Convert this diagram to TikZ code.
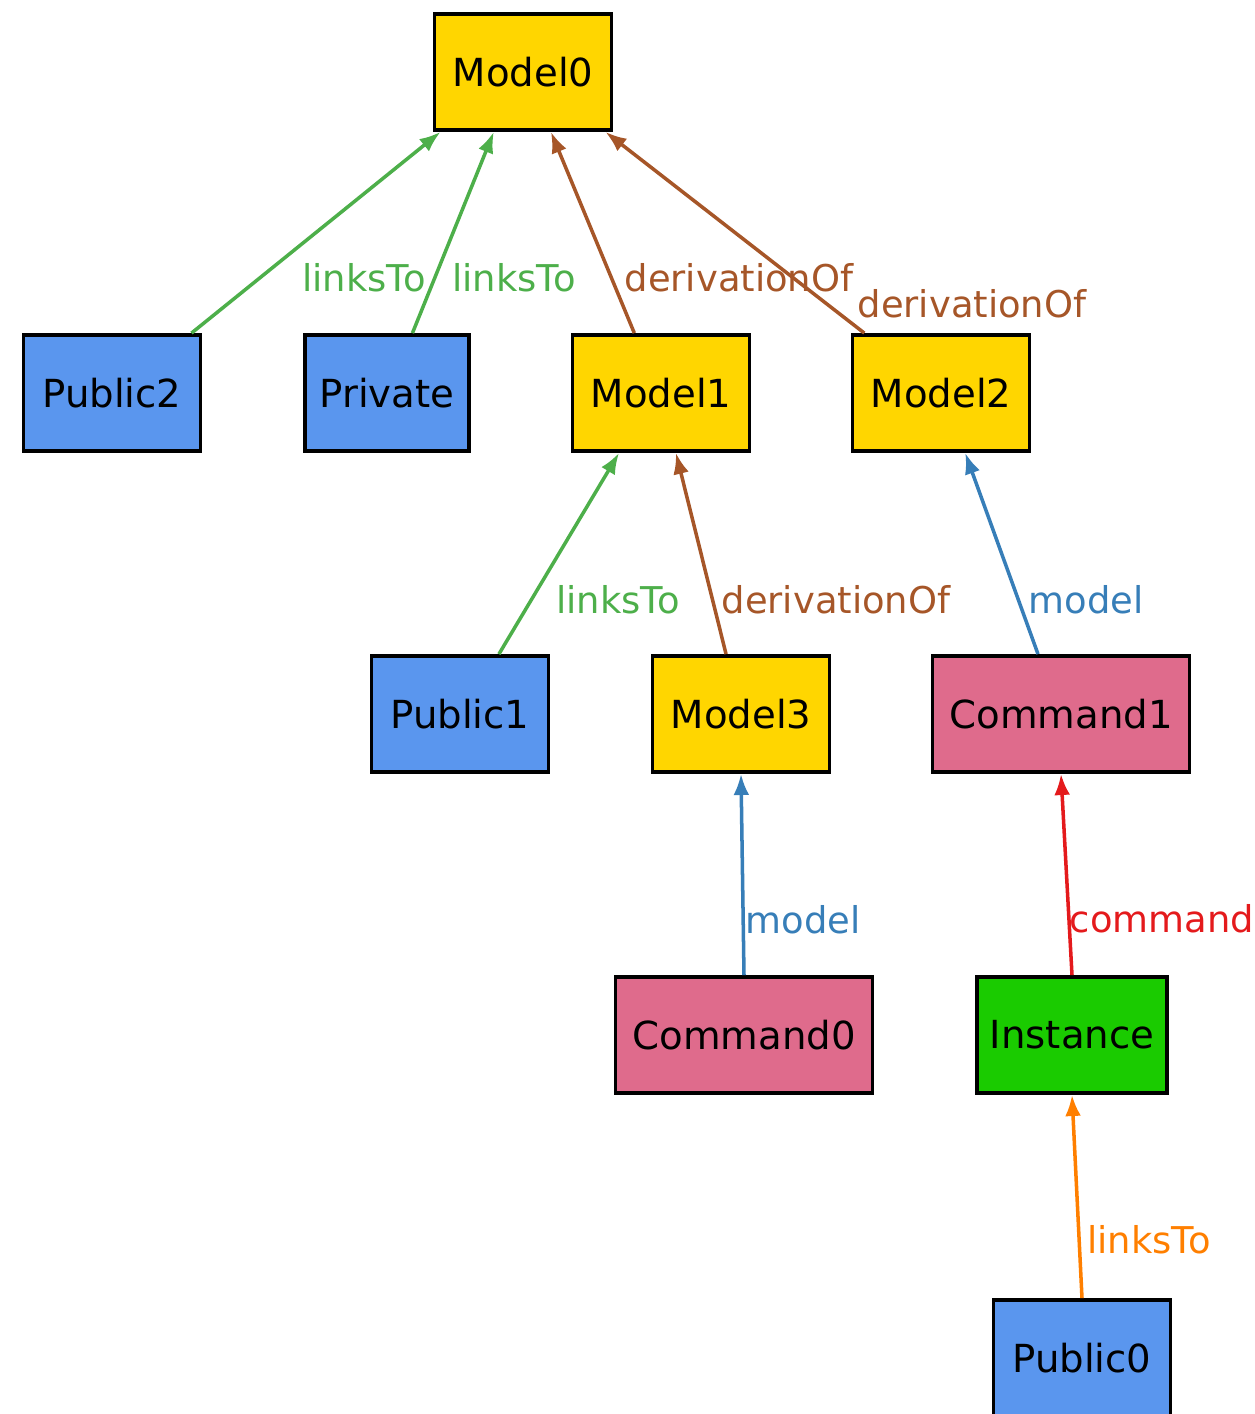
\documentclass[tikz,border=0pt]{standalone}
\usepackage{fontspec}
\setmainfont{DejaVu Sans}
\usetikzlibrary{arrows.meta}
\definecolor{modelyellow}{HTML}{FFD600}
\definecolor{publicblue}{HTML}{5A96EE}
\definecolor{commandpink}{HTML}{DF6B8C}
\definecolor{instgreen}{HTML}{1ACB00}
\definecolor{linkgreen}{HTML}{4DAF4A}
\definecolor{derivbrown}{HTML}{A65628}
\definecolor{modelblue}{HTML}{377EB8}
\definecolor{cmdred}{HTML}{E41A1C}
\definecolor{linkorange}{HTML}{FF7F00}

\begin{document}
\begin{tikzpicture}[x=0.02cm,y=-0.02cm,
  box/.style={draw=black,line width=2.2pt,minimum width=3.54cm,minimum height=2.32cm,
    inner sep=0pt,font=\fontsize{22}{26}\selectfont},
  model/.style={box,fill=modelyellow},
  public/.style={box,fill=publicblue},
  command/.style={box,fill=commandpink,minimum width=5.14cm},
  rel/.style={line width=2pt,-{Latex[length=12pt,width=9pt]}},
  lbl/.style={inner sep=0pt,font=\fontsize{21}{25}\selectfont}]
  \useasboundingbox (0,0) rectangle (1255,1414);

  \node[model] (model0) at (523,72) {Model0};
  \node[public] (public2) at (112,393) {Public2};
  \node[public,minimum width=3.28cm] (private) at (387,393) {Private};
  \node[model] (model1) at (661,393) {Model1};
  \node[model] (model2) at (941,393) {Model2};
  \node[public] (public1) at (460,714) {Public1};
  \node[model] (model3) at (741,714) {Model3};
  \node[command] (command1) at (1061,714) {Command1};
  \node[command] (command0) at (744,1035) {Command0};
  \node[box,fill=instgreen,minimum width=3.8cm] (instance) at (1072,1035) {Instance};
  \node[public] (public0) at (1082,1358) {Public0};

  \draw[rel,linkgreen] (public2.37.6) -- (model0.216.9);
  \draw[rel,linkgreen] (private.67.4) -- (model0.244.2);
  \draw[rel,derivbrown] (model1.114.2) -- (model0.295.8);
  \draw[rel,derivbrown] (model2.142.8) -- (model0.324.1);
  \draw[rel,linkgreen] (public1.57.7) -- (model1.235.7);
  \draw[rel,derivbrown] (model3.104.9) -- (model1.284.9);
  \draw[rel,modelblue] (command1.111) -- (model2.292.6);
  \draw[rel,modelblue] (command0.north) -- (model3.south);
  \draw[rel,cmdred] (instance.north) -- (command1.south);
  \draw[rel,linkorange] (public0.north) -- (instance.south);

  \node[lbl,text=linkgreen] (l1) at (364,278) {linksTo};
  \node[lbl,text=linkgreen] (l2) at (514,278) {linksTo};
  \node[lbl,text=derivbrown] (l3) at (739,278) {derivationOf};
  \node[lbl,text=derivbrown] (l4) at (972,304) {derivationOf};
  \node[lbl,text=linkgreen] (l5) at (618,600) {linksTo};
  \node[lbl,text=derivbrown] (l6) at (836,600) {derivationOf};
  \node[lbl,text=modelblue] (l7) at (1086,600) {model};
  \node[lbl,text=modelblue] (l8) at (803,920) {model};
  \node[lbl,text=cmdred] (l9) at (1162,919) {command};
  \node[lbl,text=linkorange] (l10) at (1149,1240) {linksTo};
\end{tikzpicture}
\end{document}
